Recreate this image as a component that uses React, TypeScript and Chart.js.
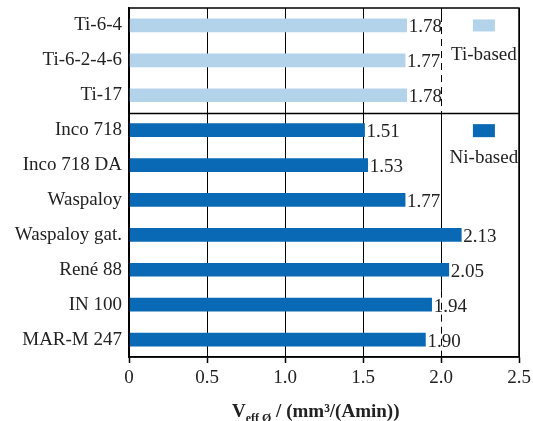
import React, { useEffect, useRef } from "react";
import { Chart, registerables } from "chart.js";

Chart.register(...registerables);

const categories = [
  "Ti-6-4",
  "Ti-6-2-4-6",
  "Ti-17",
  "Inco 718",
  "Inco 718 DA",
  "Waspaloy",
  "Waspaloy gat.",
  "René 88",
  "IN 100",
  "MAR-M 247",
];
const values = [1.78, 1.77, 1.78, 1.51, 1.53, 1.77, 2.13, 2.05, 1.94, 1.9];
const groups = ["Ti", "Ti", "Ti", "Ni", "Ni", "Ni", "Ni", "Ni", "Ni", "Ni"];
const groupNames = ["Ti-based", "Ni-based"];
const xTicks = [0, 0.5, 1.0, 1.5, 2.0, 2.5];

const TI_COLOR = "#b3d3eb";
const NI_COLOR = "#0a69b4";
const FONT = "'Liberation Serif', 'DejaVu Serif', serif";

const overlayPlugin = {
  id: "overlay",
  beforeDatasetsDraw(chart: any) {
    const { ctx, chartArea, scales } = chart;
    const x2 = Math.round(scales.x.getPixelForValue(2.0)) + 0.5;
    const yDiv = Math.round((scales.y.getPixelForValue(2) + scales.y.getPixelForValue(3)) / 2) + 0.5;
    ctx.save();
    ctx.strokeStyle = "#000";
    ctx.lineWidth = 1;
    // Ti section: dashed
    ctx.setLineDash([7, 5]);
    ctx.beginPath();
    ctx.moveTo(x2, chartArea.top + 7);
    ctx.lineTo(x2, yDiv);
    ctx.stroke();
    ctx.setLineDash([]);
    ctx.beginPath();
    ctx.moveTo(x2, chartArea.top);
    ctx.lineTo(x2, chartArea.top + 7);
    ctx.stroke();
    // Ni section: solid then dashed
    const ySwitch = scales.y.getPixelForValue(7.6);
    ctx.beginPath();
    ctx.moveTo(x2, yDiv);
    ctx.lineTo(x2, ySwitch);
    ctx.stroke();
    ctx.setLineDash([7, 5]);
    ctx.beginPath();
    ctx.moveTo(x2, ySwitch);
    ctx.lineTo(x2, chartArea.bottom);
    ctx.stroke();
    ctx.restore();
  },
  afterDatasetsDraw(chart: any) {
    const { ctx, chartArea, scales } = chart;
    const yDiv = Math.round((scales.y.getPixelForValue(2) + scales.y.getPixelForValue(3)) / 2) + 0.5;
    ctx.save();
    // plot box and group divider
    ctx.strokeStyle = "#000";
    ctx.lineWidth = 1.5;
    ctx.strokeRect(chartArea.left, chartArea.top, chartArea.right - chartArea.left, chartArea.bottom - chartArea.top);
    ctx.beginPath();
    ctx.moveTo(chartArea.left, yDiv);
    ctx.lineTo(chartArea.right, yDiv);
    ctx.stroke();

    // value labels
    ctx.font = `19px ${FONT}`;
    ctx.fillStyle = "#222";
    ctx.textBaseline = "middle";
    ctx.textAlign = "left";
    const meta = chart.getDatasetMeta(0);
    meta.data.forEach((bar: any, i: number) => {
      ctx.fillText(values[i].toFixed(2), bar.x + 2, bar.y + 2);
    });

    // legend entries
    const lx = scales.x.getPixelForValue(2.275);
    const tiY = scales.y.getPixelForValue(0);
    const niY = scales.y.getPixelForValue(3);
    ctx.fillStyle = TI_COLOR;
    ctx.fillRect(lx - 11, tiY - 6, 22, 12);
    ctx.fillStyle = NI_COLOR;
    ctx.fillRect(lx - 11, niY - 6, 22, 13);
    ctx.fillStyle = "#222";
    ctx.textAlign = "center";
    ctx.fillText(groupNames[0], lx, scales.y.getPixelForValue(0.85));
    ctx.fillText(groupNames[1], lx, scales.y.getPixelForValue(3.8));

    // axis title with subscript
    ctx.textAlign = "left";
    ctx.textBaseline = "alphabetic";
    let tx = 232;
    const ty = 417;
    ctx.font = `bold 19px ${FONT}`;
    ctx.fillText("V", tx, ty);
    tx += ctx.measureText("V").width;
    ctx.font = `bold 12px ${FONT}`;
    ctx.fillText("eff Ø", tx, ty + 5);
    tx += ctx.measureText("eff Ø").width;
    ctx.font = `bold 19px ${FONT}`;
    ctx.fillText(" / (mm³/(Amin))", tx, ty);
    ctx.restore();
  },
};

export default function App() {
  const ref = useRef<HTMLCanvasElement>(null);
  useEffect(() => {
    document.body.style.margin = "0";
    const chart = new Chart(ref.current!, {
      type: "bar",
      data: {
        labels: categories,
        datasets: [
          {
            data: values,
            backgroundColor: groups.map((g) => (g === "Ti" ? TI_COLOR : NI_COLOR)),
            barThickness: 13,
          },
        ],
      },
      options: {
        indexAxis: "y",
        responsive: false,
        animation: false,
        layout: { padding: { top: 8, right: 14, left: 0, bottom: 0 } },
        plugins: { legend: { display: false }, tooltip: { enabled: false } },
        scales: {
          x: {
            min: 0,
            max: 2.5,
            afterBuildTicks: (s: any) => {
              s.ticks = xTicks.map((v) => ({ value: v }));
            },
            afterFit: (s: any) => {
              s.height = 64;
              s.paddingLeft = 0;
              s.paddingRight = 0;
            },
            ticks: {
              font: { family: FONT, size: 19 },
              color: "#222",
              padding: 4,
              callback: (v: any) => (v === 0 ? "0" : Number(v).toFixed(1)),
            },
            grid: {
              color: (c: any) => (c.tick && c.tick.value === 2 ? "rgba(0,0,0,0)" : "#000"),
              lineWidth: 1,
              tickColor: "#000",
              tickLength: 6,
              tickWidth: 1.5,
            },
            border: { color: "#000", width: 1.5 },
          },
          y: {
            afterFit: (s: any) => {
              s.width = 129;
              s.paddingTop = 0;
              s.paddingBottom = 0;
            },
            ticks: {
              font: { family: FONT, size: 19 },
              color: "#222",
              padding: 7,
            },
            grid: { display: false, drawTicks: false },
            border: { color: "#000", width: 1.5 },
          },
        } as any,
      },
      plugins: [overlayPlugin],
    });
    return () => chart.destroy();
  }, []);
  return (
    <div style={{ width: 533, height: 421 }}>
      <canvas ref={ref} width={533} height={421} />
    </div>
  );
}
